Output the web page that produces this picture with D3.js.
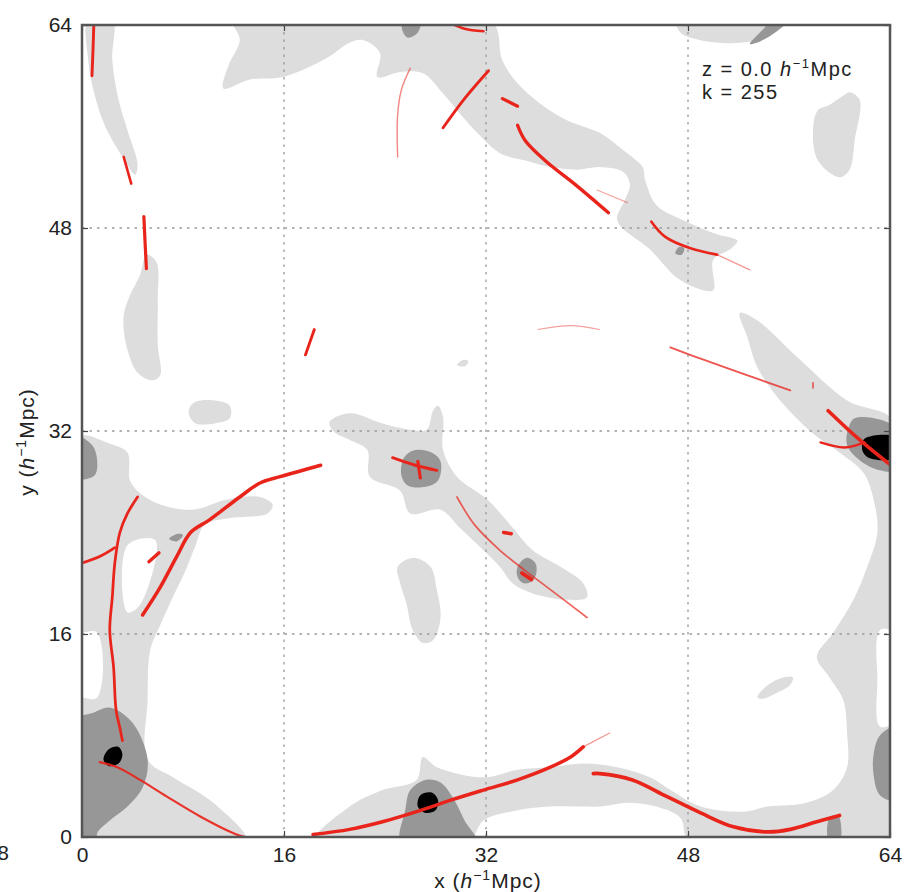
<!DOCTYPE html>
<html>
<head>
<meta charset="utf-8">
<script src="https://cdn.jsdelivr.net/npm/d3@7"></script>
<style>
	body { margin: 0; background: #fff; }
	svg text { font-family: "Liberation Sans", Arial, sans-serif; }
</style>
</head>
<body>
<svg id="chart" width="911" height="892"></svg>
<script>
(function() {

	// axis ticks, h^-1 Mpc
	const ticks = [0, 16, 32, 48, 64];
	const gridTicks = [16, 32, 48];

	// density contours, [x, y] in h^-1 Mpc. each region is a list of rings (2nd ring = hole)
	const lightRegions = [
		[[[0.5,64.5],[2.4,64.5],[2.4,61.2],[2.9,58.1],[3.6,55.7],[4.4,53.0],[4.2,52.2],[3.4,53.3],[1.8,56.1],[0.9,58.9],[0.5,61.2]]],
		[[[5.1,45.9],[5.9,45.3],[6.0,42.3],[6.0,38.8],[6.2,36.4],[5.6,36.0],[4.4,36.6],[3.5,38.8],[3.3,41.1],[3.8,42.7],[4.6,44.3]]],
		[[[8.5,33.8],[9.0,34.3],[10.5,34.4],[11.7,34.0],[11.7,33.0],[10.5,32.6],[9.0,32.6],[8.5,33.2]]],
		[[[12.0,64.5],[32.3,64.5],[33.3,61.2],[34.5,59.4],[36.3,57.8],[38.4,56.5],[41.0,55.5],[42.9,54.1],[44.4,52.8],[44.6,51.8],[45.5,49.8],[47.9,48.5],[50.3,47.5],[51.9,47.0],[51.3,46.3],[50.0,45.5],[50.0,43.1],[48.6,43.3],[47.1,44.1],[45.0,46.3],[42.4,48.6],[43.0,50.2],[43.4,51.4],[42.9,52.4],[41.0,52.8],[39.2,52.6],[37.1,52.8],[35.2,53.3],[33.1,53.9],[31.3,55.5],[30.2,56.7],[28.6,58.6],[27.0,60.2],[25.2,60.3],[23.4,59.9],[23.6,61.8],[22.3,62.8],[21.2,62.6],[19.4,61.4],[15.9,59.9],[13.3,59.7],[11.2,59.0],[11.6,60.8],[12.5,62.8]]],
		[[[47.1,64.5],[55.8,64.5],[54.5,63.2],[52.1,62.6],[49.0,62.8],[47.4,63.4]]],
		[[[60.8,58.7],[61.6,58.1],[61.2,54.9],[60.8,52.6],[60.0,52.0],[58.3,53.3],[57.9,55.7],[58.3,57.3],[59.2,57.7],[60.4,58.5]]],
		[[[52.1,41.3],[53.5,40.7],[56.9,37.6],[60.6,34.4],[64.5,32.6],[64.5,16.5],[63.2,16.3],[63.0,12.4],[63.2,8.7],[64.5,8.7],
		  [64.5,-0.5],[48.2,-0.5],[47.4,1.5],[45.8,2.3],[43.4,2.7],[41.0,2.4],[39.7,2.4],[37.1,2.4],[34.5,2.1],[31.8,1.3],[30.5,-0.5],
		  [18.3,-0.5],[21.2,2.4],[23.8,3.7],[26.5,4.5],[27.0,6.3],[28.1,5.5],[31.8,4.7],[34.5,5.3],[37.1,5.5],[39.7,5.8],[42.4,5.5],[45.0,4.7],[46.3,3.9],[49.0,2.4],[52.4,2.0],[54.3,2.4],[57.4,2.7],[59.5,3.7],[60.6,5.5],[60.6,8.2],[60.3,10.8],[59.2,12.6],[58.2,14.2],[59.5,16.1],[61.1,18.7],[62.2,21.3],[63.0,24.0],[62.7,26.6],[61.9,28.7],[60.0,30.3],[57.9,31.8],[55.3,34.4],[53.5,37.0],[52.7,39.4]]],
		[[[-0.5,31.5],[2.2,31.0],[3.6,30.3],[3.8,28.1],[4.6,27.1],[6.2,26.2],[8.8,25.8],[11.5,26.6],[14.1,26.8],[15.1,26.2],[14.7,25.5],[11.5,25.1],[9.7,24.6],[9.0,23.0],[8.2,21.0],[7.1,18.7],[6.2,16.7],[5.4,14.7],[5.2,10.8],[5.2,6.1],[7.4,4.6],[10.4,2.7],[13.1,-0.5],[-0.5,-0.5],[-0.5,10.8],[1.2,11.0],[1.2,16.1],[-0.5,16.3]],
		 [[3.6,23.0],[5.8,23.4],[4.6,18.3],[3.6,17.7]]],
		[[[19.6,32.7],[21.2,33.4],[23.8,32.6],[26.0,32.1],[27.3,32.1],[27.8,33.6],[28.2,34.0],[28.6,33.1],[28.6,30.5],[29.7,28.4],[32.1,26.6],[34.1,24.4],[35.7,22.6],[37.9,21.3],[39.7,20.0],[40.0,18.9],[38.4,18.7],[35.7,19.2],[34.1,20.0],[33.1,21.3],[31.8,22.6],[29.9,24.4],[28.4,25.8],[26.0,25.5],[25.2,27.3],[22.8,28.4],[22.6,30.5],[21.2,31.3],[20.0,31.9]]],
		[[[26.2,22.0],[27.6,21.3],[28.1,19.5],[28.4,17.3],[27.8,15.5],[27.0,15.3],[26.2,16.3],[25.7,18.4],[25.2,20.0],[25.0,21.3]]],
		[[[53.5,11.0],[54.1,11.8],[55.3,12.5],[56.3,12.6],[56.1,12.0],[54.9,11.3],[53.9,10.9]]],
		[[[29.7,37.2],[30.2,37.6],[30.6,37.5],[30.3,37.1]]]
	];

	const midRegions = [
		[[[25.4,64.5],[26.8,64.5],[26.6,63.4],[25.8,63.0],[25.4,63.5]]],
		[[[52.9,62.5],[53.7,63.4],[54.9,64.5],[56.1,64.5],[54.9,63.4],[53.7,62.7]]],
		[[[-0.5,31.6],[0.8,30.9],[1.2,29.7],[1.0,28.5],[-0.5,28.3]]],
		[[[6.9,23.5],[7.6,23.9],[8.0,23.8],[7.5,23.3]]],
		[[[2.2,10.2],[4.0,9.0],[5.2,6.1],[4.8,3.9],[3.6,2.4],[2.2,1.3],[1.2,0.3],[1.2,-0.5],[-0.5,-0.5],[-0.5,9.2],[0.9,9.8]]],
		[[[26.4,30.5],[27.7,30.3],[28.4,29.6],[28.2,28.1],[27.2,27.6],[25.8,27.7],[25.3,28.5],[25.5,29.9]]],
		[[[35.2,22.0],[35.9,21.6],[36.0,20.9],[35.7,20.2],[35.0,20.0],[34.5,20.5],[34.5,21.3]]],
		[[[61.2,33.0],[63.2,32.9],[64.5,32.1],[64.5,28.9],[63.2,28.9],[61.6,29.7],[60.6,30.9],[60.7,32.2]]],
		[[[26.0,3.7],[27.2,4.5],[28.4,4.3],[29.5,2.9],[30.3,1.3],[31.3,-0.5],[25.3,-0.5],[25.6,2.1]]],
		[[[64.5,8.7],[63.2,8.0],[62.7,6.5],[62.7,4.9],[63.2,3.3],[64.5,2.9]]],
		[[[47.0,46.0],[47.3,46.5],[47.7,46.4],[47.5,45.9]]],
		[[[59.2,1.5],[59.9,1.7],[60.0,-0.5],[59.2,-0.5]]]
	];

	const darkRegions = [
		[[[2.1,6.9],[2.9,7.1],[3.2,6.5],[2.9,5.8],[2.1,5.6],[1.7,6.1]]],
		[[[26.8,3.3],[27.7,3.5],[28.2,2.9],[28.0,2.1],[27.2,1.9],[26.6,2.4]]],
		[[[62.0,31.4],[64.5,31.5],[64.5,29.9],[62.3,29.9],[61.8,30.5]]]
	];

	// filament spines, [x, y] in h^-1 Mpc
	const filaments = [
		[[0.95,64.5],[0.87,62.0],[0.79,60.0]],
		[[3.3,53.6],[3.9,51.5]],
		[[4.9,48.9],[5.0,46.8],[5.1,44.8]],
		[[18.4,40.0],[17.7,38.0]],
		[[29.1,64.2],[30.3,63.7],[31.8,63.5]],
		[[26.0,60.6],[25.3,58.9],[25.0,56.9],[25.0,53.6]],
		[[32.2,60.4],[30.3,58.2],[28.6,55.9]],
		[[33.3,58.2],[34.5,57.6]],
		[[34.5,56.1],[35.1,54.9],[36.7,53.3],[39.1,51.4],[41.7,49.2]],
		[[40.8,51.0],[43.2,50.0]],
		[[45.1,48.5],[46.2,47.3],[48.2,46.4],[50.3,45.9]],
		[[50.3,45.9],[52.9,44.7]],
		[[36.1,40.0],[38.7,40.3],[41.0,40.0]],
		[[46.6,38.6],[49.0,37.7],[52.1,36.6],[56.1,35.2]],
		[[57.9,35.8],[57.9,35.4]],
		[[59.1,33.6],[61.6,31.3],[64.2,29.2]],
		[[58.5,31.1],[60.4,30.7],[62.0,31.1]],
		[[24.6,29.9],[26.4,29.3],[28.1,28.9]],
		[[26.6,29.6],[26.8,28.3]],
		[[29.7,26.8],[31.1,24.6],[33.1,22.6],[35.1,21.0],[37.1,19.5],[40.0,17.3]],
		[[34.85,20.8],[35.6,20.3]],
		[[33.4,24.0],[34.0,23.9]],
		[[4.8,17.5],[6.2,19.7],[7.5,22.1],[8.6,24.0],[10.1,25.0],[12.5,26.8],[14.1,27.9],[15.7,28.4],[18.9,29.3]],
		[[-0.3,21.5],[1.4,22.1],[2.6,22.8]],
		[[4.4,26.8],[3.6,25.5],[3.0,24.0],[2.6,21.6],[2.4,18.9],[2.2,16.3],[2.5,13.4],[2.7,10.0],[3.0,8.6],[3.2,7.6]],
		[[5.3,21.7],[6.1,22.4]],
		[[1.4,5.9],[2.8,5.5],[4.6,4.5],[6.7,3.2],[9.4,1.6],[12.0,0.3],[12.9,0.0]],
		[[18.3,0.2],[21.2,0.6],[23.8,1.2],[26.5,2.0],[29.2,2.9],[31.8,3.7],[34.5,4.5],[37.1,5.5],[38.7,6.3],[39.7,7.1]],
		[[39.7,7.1],[41.8,8.2]],
		[[40.5,5.0],[41.0,5.0],[43.6,4.5],[46.3,3.2],[49.0,1.9],[51.6,0.8],[54.3,0.4],[56.1,0.6],[58.2,1.2],[60.0,1.7]]
	];
	// relative strength of each filament (0 = barely detected, 1 = strongest)
	const filamentStrength = [0.7, 0.6, 0.8, 0.7, 0.55, 0.2, 0.7, 0.8, 0.85, 0.1, 0.6, 0.15, 0.12, 0.35, 0.3, 0.95, 0.5, 0.7, 0.8, 0.3, 1.0, 0.9, 0.9, 0.65, 0.65, 0.85, 0.45, 0.9, 0.15, 0.95];

	const labelLines = ["z = 0.0 ", "k = 255"];

	const svg = d3.select("#chart");
	const x = d3.scaleLinear().domain([0, 64]).range([82, 890]);
	const y = d3.scaleLinear().domain([0, 64]).range([837, 25]);
	const widthOf = d3.scaleLinear().domain([0, 1]).range([0.8, 3.8]);
	const alphaOf = d3.scaleLinear().domain([0, 0.5, 1]).range([0.25, 1, 1]).clamp(true);

	svg.append("defs").append("clipPath").attr("id", "plot-clip")
		.append("rect")
		.attr("x", x(0)).attr("y", y(64))
		.attr("width", x(64) - x(0)).attr("height", y(0) - y(64));

	const plot = svg.append("g").attr("clip-path", "url(#plot-clip)");

	const ring = d3.line()
		.x(d => x(d[0]))
		.y(d => y(d[1]))
		.curve(d3.curveCatmullRomClosed.alpha(0.5));

	function drawLevel(regions, colour) {
		plot.append("g")
			.selectAll("path")
			.data(regions)
			.join("path")
			.attr("d", rings => rings.map(r => ring(r)).join(" "))
			.attr("fill", colour)
			.attr("fill-rule", "evenodd");
	}

	drawLevel(lightRegions, "#dddddd");
	drawLevel(midRegions, "#979797");
	drawLevel(darkRegions, "#000");

	// dotted grid
	const grid = plot.append("g")
		.attr("stroke", "#9a9a9a")
		.attr("stroke-width", 1.3)
		.attr("stroke-dasharray", "2.5,5");
	grid.selectAll(".gx").data(gridTicks).join("line")
		.attr("x1", d => x(d)).attr("x2", d => x(d))
		.attr("y1", y(0)).attr("y2", y(64));
	grid.selectAll(".gy").data(gridTicks).join("line")
		.attr("y1", d => y(d)).attr("y2", d => y(d))
		.attr("x1", x(0)).attr("x2", x(64));

	const spine = d3.line()
		.x(d => x(d[0]))
		.y(d => y(d[1]))
		.curve(d3.curveCatmullRom.alpha(0.5));

	plot.append("g")
		.selectAll("path")
		.data(filaments)
		.join("path")
		.attr("d", spine)
		.attr("fill", "none")
		.attr("stroke", "#e8241b")
		.attr("stroke-linecap", "round")
		.attr("stroke-width", (d, i) => widthOf(filamentStrength[i]))
		.attr("stroke-opacity", (d, i) => alphaOf(filamentStrength[i]));

	// axes: inward ticks on all four sides
	function styleAxis(g) {
		g.select(".domain").remove();
		g.selectAll(".tick line").attr("stroke", "#444").attr("stroke-width", 1.2);
		g.selectAll(".tick text").attr("font-size", 21).attr("fill", "#222")
			.attr("font-family", "'Liberation Sans', Arial, sans-serif");
	}

	svg.append("g")
		.attr("transform", `translate(0,${y(0)})`)
		.call(d3.axisBottom(x).tickValues(ticks).tickSizeInner(-6).tickSizeOuter(0).tickPadding(10))
		.call(styleAxis);
	svg.append("g")
		.attr("transform", `translate(${x(0)},0)`)
		.call(d3.axisLeft(y).tickValues(ticks).tickSizeInner(-6).tickSizeOuter(0).tickPadding(10))
		.call(styleAxis);
	svg.append("g")
		.attr("transform", `translate(0,${y(64)})`)
		.call(d3.axisTop(x).tickValues(ticks).tickSizeInner(-6).tickSizeOuter(0).tickFormat(""))
		.call(styleAxis);
	svg.append("g")
		.attr("transform", `translate(${x(64)},0)`)
		.call(d3.axisRight(y).tickValues(ticks).tickSizeInner(-6).tickSizeOuter(0).tickFormat(""))
		.call(styleAxis);

	svg.append("rect")
		.attr("x", x(0)).attr("y", y(64))
		.attr("width", x(64) - x(0)).attr("height", y(0) - y(64))
		.attr("fill", "none")
		.attr("stroke", "#555")
		.attr("stroke-width", 2.5);

	// annotation
	const note = svg.append("text")
		.attr("x", x(49.1)).attr("y", y(60.0))
		.attr("font-size", 20).attr("fill", "#222")
		.attr("letter-spacing", 1.5);
	note.append("tspan").text(labelLines[0]);
	note.append("tspan").attr("font-style", "italic").text("h");
	note.append("tspan").attr("font-size", 13).attr("dy", -8).text("\u22121");
	note.append("tspan").attr("dy", 8).text("Mpc");
	svg.append("text")
		.attr("x", x(49.1)).attr("y", y(58.2))
		.attr("font-size", 20).attr("fill", "#222")
		.attr("letter-spacing", 1.5)
		.text(labelLines[1]);

	// axis titles
	function axisTitle(t, letter) {
		t.attr("font-size", 21).attr("fill", "#222").attr("text-anchor", "middle")
			.attr("letter-spacing", 1);
		t.append("tspan").text(letter + " (");
		t.append("tspan").attr("font-style", "italic").text("h");
		t.append("tspan").attr("font-size", 14).attr("dy", -8).text("\u22121");
		t.append("tspan").attr("dy", 8).text("Mpc)");
	}
	svg.append("text").attr("x", 488).attr("y", 888).call(axisTitle, "x");
	svg.append("text").attr("transform", "translate(34,442) rotate(-90)").call(axisTitle, "y");

	// edge of the neighbouring panel's tick label, cropped as in the source figure
	svg.append("text")
		.attr("x", 9).attr("y", 860)
		.attr("text-anchor", "end")
		.attr("font-size", 21).attr("fill", "#222")
		.text("48");

})();
</script>
</body>
</html>
